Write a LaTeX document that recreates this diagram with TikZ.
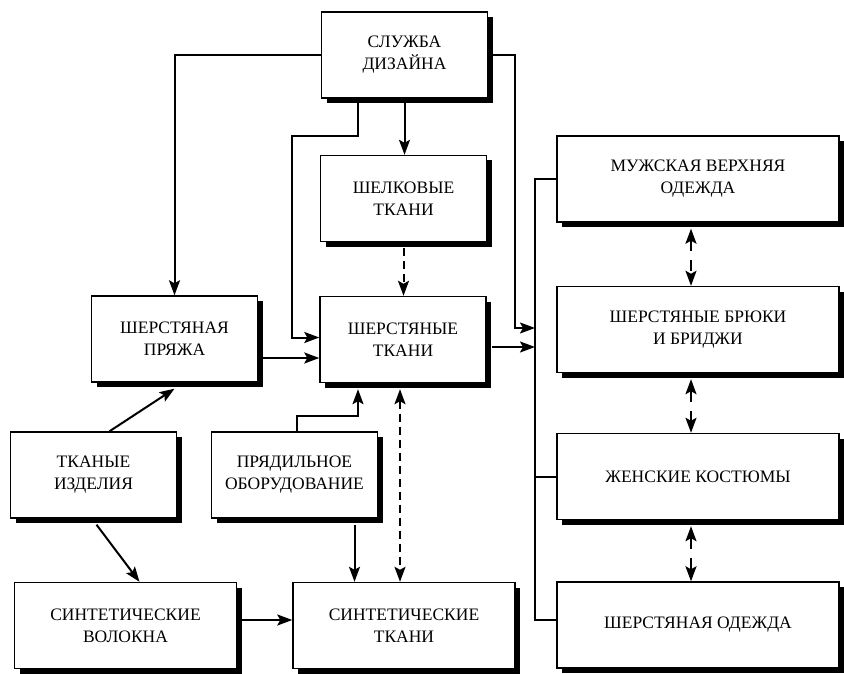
\documentclass[tikz,border=0pt]{standalone}
\usepackage{fontspec}
\setmainfont{Liberation Serif}
\usepackage{tikz}
\usetikzlibrary{arrows.meta}
\usetikzlibrary{shadows}
\usetikzlibrary{positioning}

\begin{document}
\begin{tikzpicture}[x=1pt,y=-1pt,
    box/.style={draw,line width=1.4pt,fill=white,align=center,
      minimum width=166pt,minimum height=86pt,inner sep=2pt,
      font=\fontsize{17.5}{22}\selectfont,
      drop shadow={shadow xshift=5pt,shadow yshift=-5pt,fill=black,opacity=1}},
    widebox/.style={box,minimum width=222pt},
    rightbox/.style={box,minimum width=282pt},
    arr/.style={line width=2pt,-{Stealth[length=15pt,width=11pt,inset=3pt]}},
    darr/.style={arr,dash pattern=on 8pt off 5pt},
    ddarr/.style={darr,{Stealth[length=15pt,width=11pt,inset=3pt]}-{Stealth[length=15pt,width=11pt,inset=3pt]}}]

        \useasboundingbox (0,0) rectangle (844,674);

        % boxes
        \node[box] (sluzhba) at (404.5,55) {СЛУЖБА\\ДИЗАЙНА};
        \node[box] (shelk) at (403.5,198.5) {ШЕЛКОВЫЕ\\ТКАНИ};
        \node[box] (shtkani) at (403,339.5) {ШЕРСТЯНЫЕ\\ТКАНИ};
        \node[box] (pryazha) at (174.5,339) {ШЕРСТЯНАЯ\\ПРЯЖА};
        \node[box] (tkanye) at (93.5,475) {ТКАНЫЕ\\ИЗДЕЛИЯ};
        \node[box] (pryad) at (294.5,475) {ПРЯДИЛЬНОЕ\\ОБОРУДОВАНИЕ};
        \node[widebox] (volokna) at (125.5,625.5) {СИНТЕТИЧЕСКИЕ\\ВОЛОКНА};
        \node[widebox] (sinttk) at (404,625.5) {СИНТЕТИЧЕСКИЕ\\ТКАНИ};

        \node[rightbox] (muzh) at (698,179) {МУЖСКАЯ ВЕРХНЯЯ\\ОДЕЖДА};
        \node[rightbox] (bryuki) at (698,329.5) {ШЕРСТЯНЫЕ БРЮКИ\\И БРИДЖИ};
        \node[rightbox] (zhensk) at (698,476.5) {ЖЕНСКИЕ КОСТЮМЫ};
        \node[rightbox] (odezhda) at (698,625) {ШЕРСТЯНАЯ ОДЕЖДА};

        % bus on the right
        \coordinate (busA) at (535,328);
        \coordinate (busB) at (535,347);
        \draw[line width=2pt] (muzh.west) -- (muzh.west -| busA)
          |- ([yshift=5pt]odezhda.west);
        \draw[line width=2pt] (zhensk.west) -- (zhensk.west -| busA);

        % arrows
        \draw[arr] (sluzhba.west) -| (pryazha.north);
        \draw[arr] (sluzhba.east) -| ([xshift=-20pt]busA) -- (busA);
        \draw[arr] ([xshift=-47pt]sluzhba.south) -- ++(0,37)
          -| ([xshift=-27pt,yshift=2pt]shtkani.west) -- ([yshift=2pt]shtkani.west);
        \draw[arr] (sluzhba.south) -- (sluzhba.south |- shelk.north);
        \draw[darr] ([yshift=-6pt]shelk.south) -- (shelk.south |- shtkani.north);

        \draw[arr] ([yshift=-19pt]pryazha.east) coordinate (pa) -- (pa -| shtkani.west);
        \draw[arr] ([xshift=16pt]tkanye.north) -- ([yshift=-6pt]pryazha.south);
        \draw[arr] ([xshift=3pt,yshift=-6pt]tkanye.south) -- ([xshift=14pt]volokna.north);
        \draw[arr] ([xshift=2pt]pryad.north) -- ++(0,-15)
          -| ([xshift=-45pt,yshift=-6pt]shtkani.south);
        \draw[arr] ([xshift=60pt,yshift=-6pt]pryad.south) coordinate (pb) -- (pb |- sinttk.north);
        \draw[ddarr] ([xshift=-3pt,yshift=-6pt]shtkani.south) coordinate (sa) -- (sa |- sinttk.north);
        \draw[arr] ([xshift=5pt,yshift=5.5pt]volokna.east) coordinate (va) -- (va -| sinttk.west);
        \draw[arr] ([xshift=5pt,yshift=-7.5pt]shtkani.east) coordinate (ta) -- (ta -| busB);

        \foreach \a/\b in {muzh/bryuki,bryuki/zhensk,zhensk/odezhda}
        {
          \draw[ddarr,dash pattern=on 11pt off 9pt]
            ([xshift=-7pt,yshift=-6pt]\a.south) coordinate (ra) -- (ra |- \b.north);
        }
      \end{tikzpicture}
\end{document}
